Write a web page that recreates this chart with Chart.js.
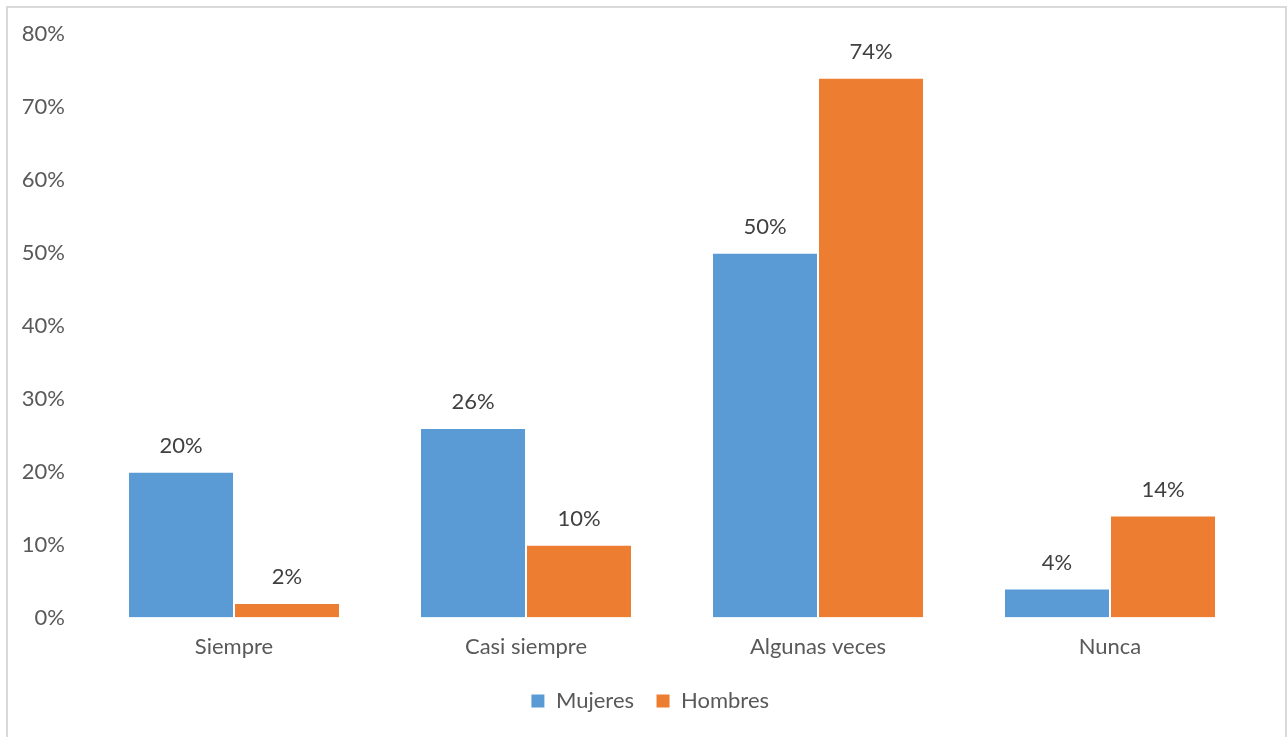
<!DOCTYPE html>
<html>
<head>
<meta charset="utf-8">
<script src="https://cdn.jsdelivr.net/npm/chart.js@4"></script>
<style>
  body { margin: 0; background: #fff; }
  #frame { position: absolute; left: 6px; top: 6px; width: 1277px; height: 740px; border: 2px solid #d9d9d9; }
  #box { position: absolute; left: 0; top: 0; width: 1288px; height: 737px; }
</style>
</head>
<body>
<div id="frame"></div>
<div id="box"><canvas id="chart" width="1288" height="737"></canvas></div>
<script>
const categories = ['Siempre', 'Casi siempre', 'Algunas veces', 'Nunca'];
const mujeres = [20, 26, 50, 4];
const hombres = [2, 10, 74, 14];
const yTicks = [0, 10, 20, 30, 40, 50, 60, 70, 80];

const FONT = 'Lato, "Open Sans", sans-serif';

// draws the % label above each bar
const barLabels = {
  id: 'barLabels',
  afterDatasetsDraw(chart) {
    const ctx = chart.ctx;
    ctx.save();
    ctx.font = '22px ' + FONT;
    ctx.fillStyle = '#404040';
    ctx.textAlign = 'center';
    ctx.textBaseline = 'middle';
    chart.data.datasets.forEach((ds, i) => {
      chart.getDatasetMeta(i).data.forEach((bar, j) => {
        ctx.fillText(ds.data[j] + '%', bar.x, bar.y - 26);
      });
    });
    ctx.restore();
  }
};

// nudge the legend a bit to the right, like the original
const legendShift = {
  id: 'legendShift',
  afterLayout(chart) {
    if (chart.legend) chart.legend.left += 44;
  }
};

new Chart(document.getElementById('chart').getContext('2d'), {
  type: 'bar',
  data: {
    labels: categories,
    datasets: [
      { label: 'Mujeres', data: mujeres, backgroundColor: '#5b9bd5', borderColor: '#ffffff', borderWidth: 1 },
      { label: 'Hombres', data: hombres, backgroundColor: '#ed7d31', borderColor: '#ffffff', borderWidth: 1 }
    ]
  },
  options: {
    responsive: false,
    animation: false,
    categoryPercentage: 0.726,
    barPercentage: 1,
    layout: { padding: { top: 34, right: 32, left: 0, bottom: 15 } },
    scales: {
      x: {
        grid: { display: false },
        border: { display: false },
        ticks: { color: '#595959', font: { family: FONT, size: 22 }, padding: 8 }
      },
      y: {
        min: 0,
        max: 80,
        afterFit: (s) => { s.width = 88; },
        afterBuildTicks: (s) => { s.ticks = yTicks.map(v => ({ value: v })); },
        grid: { display: false },
        border: { display: false },
        ticks: { color: '#595959', font: { family: FONT, size: 22 }, padding: 15, callback: (v) => v + '%' }
      }
    },
    plugins: {
      legend: {
        position: 'bottom',
        labels: { color: '#595959', font: { family: FONT, size: 22 }, boxWidth: 14, boxHeight: 14, padding: 22, useBorderRadius: false }
      },
      tooltip: { enabled: false }
    }
  },
  plugins: [barLabels, legendShift]
});
</script>
</body>
</html>
